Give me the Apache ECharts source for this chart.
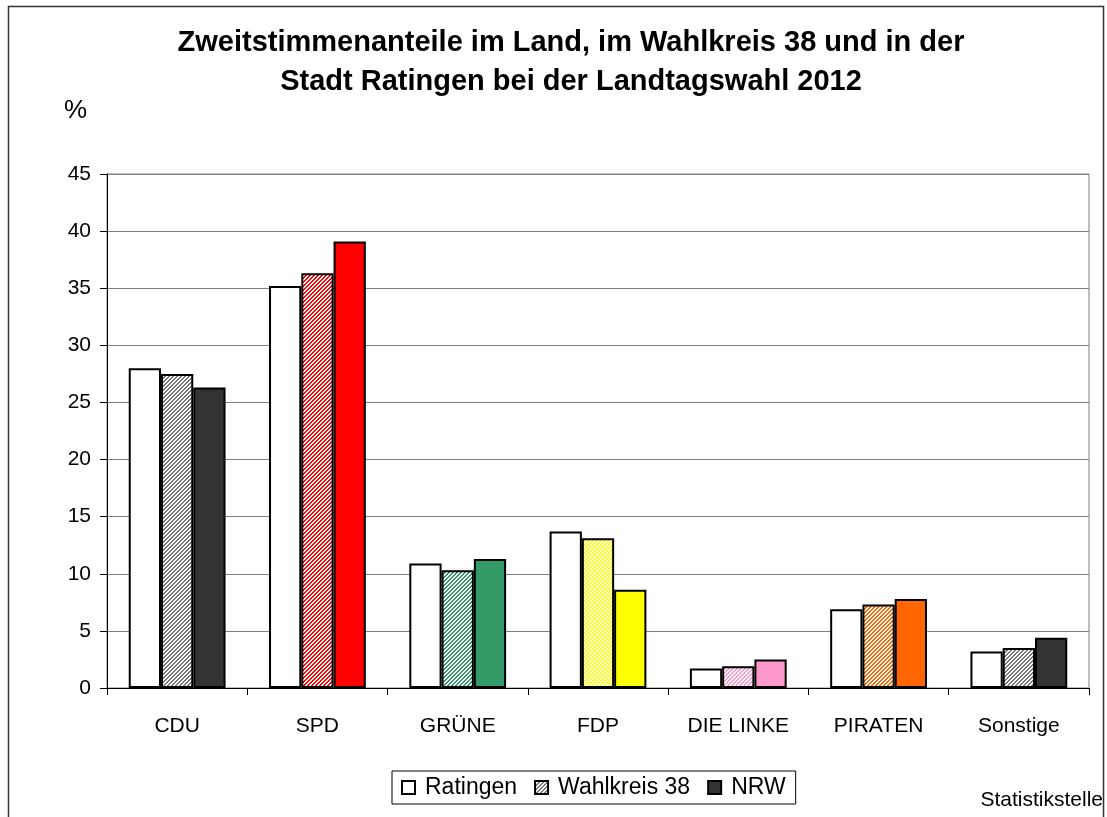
<!DOCTYPE html>
<html>
<head>
<meta charset="utf-8">
<script src="https://cdn.jsdelivr.net/npm/echarts@6/dist/echarts.min.js"></script>
<style>
  html, body { margin: 0; padding: 0; background: #fff; }
  #main { width: 1107px; height: 817px; }
</style>
</head>
<body>
<div id="main"></div>
<script>
var parteien = ['CDU', 'SPD', 'GRÜNE', 'FDP', 'DIE LINKE', 'PIRATEN', 'Sonstige'];
var farben = ['#333333', '#FF0000', '#339966', '#FFFF00', '#FF99CC', '#FF6600', '#333333'];
var ratingen = [28.0, 35.2, 10.9, 13.7, 1.7, 6.9, 3.2];
var wahlkreis = [27.5, 36.3, 10.3, 13.1, 1.9, 7.3, 3.5];
var nrw = [26.3, 39.1, 11.3, 8.6, 2.5, 7.8, 4.4];

// schraffur wie im Excel-Diagramm
function schraffur(farbe) {
    var c = document.createElement('canvas');
    c.width = 4; c.height = 4;
    var ctx = c.getContext('2d');
    ctx.fillStyle = '#fff';
    ctx.fillRect(0, 0, 4, 4);
    ctx.fillStyle = farbe;
    for (var x = 0; x < 4; x++) {
        for (var y = 0; y < 4; y++) {
            var d = (x + y) % 4;
            if (d === 0 || d === 1) ctx.fillRect(x, y, 1, 1);
        }
    }
    return { image: c, repeat: 'repeat' };
}

var hatchFarben = farben.map(function (f) { return f === '#333333' ? '#777777' : f; });

var myChart = echarts.init(document.getElementById('main'));

var rand = { color: '#000', width: 2 };
var schrift = 'Liberation Sans';

option = {
    animation: false,
    backgroundColor: '#fff',
    title: {
        text: 'Zweitstimmenanteile im Land, im Wahlkreis 38 und in der\nStadt Ratingen bei der Landtagswahl 2012',
        left: 566,
        top: 18,
        textAlign: 'center',
        textStyle: {
            fontFamily: schrift,
            fontSize: 29,
            fontWeight: 'bold',
            color: '#000',
            lineHeight: 39
        }
    },
    legend: {
        bottom: 13,
        left: 392,
        data: ['Ratingen', 'Wahlkreis 38', 'NRW'],
        icon: 'rect',
        borderColor: '#000',
        borderWidth: 1,
        padding: [5, 10, 5, 9],
        itemWidth: 13,
        itemHeight: 13,
        itemGap: 17,
        textStyle: { fontFamily: schrift, fontSize: 23, color: '#000', padding: [0, 0, 0, 5] }
    },
    grid: {
        left: 107,
        right: 18,
        top: 174,
        bottom: 129,
        show: true,
        borderColor: '#808080',
        borderWidth: 1
    },
    xAxis: {
        type: 'category',
        data: parteien,
        axisLine: { lineStyle: { color: '#000', width: 1 } },
        axisTick: { show: true, length: 7, lineStyle: { color: '#000' } },
        axisLabel: { margin: 28, fontFamily: schrift, fontSize: 21, color: '#000' }
    },
    yAxis: {
        type: 'value',
        min: 0,
        max: 45,
        interval: 5,
        axisLine: { show: true, lineStyle: { color: '#000', width: 1 } },
        axisTick: { show: true, length: 7, lineStyle: { color: '#000' } },
        axisLabel: { margin: 16, fontFamily: schrift, fontSize: 21, color: '#000' },
        splitLine: { lineStyle: { color: '#808080', width: 1 } }
    },
    graphic: [
        {
            type: 'rect',
            shape: { x: 8.5, y: 6.5, width: 1095, height: 830 },
            style: { fill: 'none', stroke: '#333', lineWidth: 1.5 },
            silent: true
        },
        {
            type: 'text',
            left: 64,
            top: 98,
            style: { text: '%', fontFamily: schrift, fontSize: 26, fill: '#000' }
        },
        {
            type: 'text',
            right: 4,
            top: 790,
            style: { text: 'Statistikstelle', fontFamily: schrift, fontSize: 21, fill: '#000' }
        }
    ],
    series: [
        {
            name: 'Ratingen',
            type: 'bar',
            barGap: '0%',
            barCategoryGap: '31%',
            itemStyle: { color: '#fff', borderColor: rand.color, borderWidth: rand.width },
            data: ratingen
        },
        {
            name: 'Wahlkreis 38',
            type: 'bar',
            itemStyle: { color: schraffur('#777777'), borderColor: rand.color, borderWidth: rand.width },
            data: wahlkreis.map(function (v, i) {
                return { value: v, itemStyle: { color: schraffur(hatchFarben[i]) } };
            })
        },
        {
            name: 'NRW',
            type: 'bar',
            itemStyle: { color: '#333333', borderColor: rand.color, borderWidth: rand.width },
            data: nrw.map(function (v, i) {
                return { value: v, itemStyle: { color: farben[i] } };
            })
        }
    ]
};

myChart.setOption(option);
</script>
</body>
</html>
